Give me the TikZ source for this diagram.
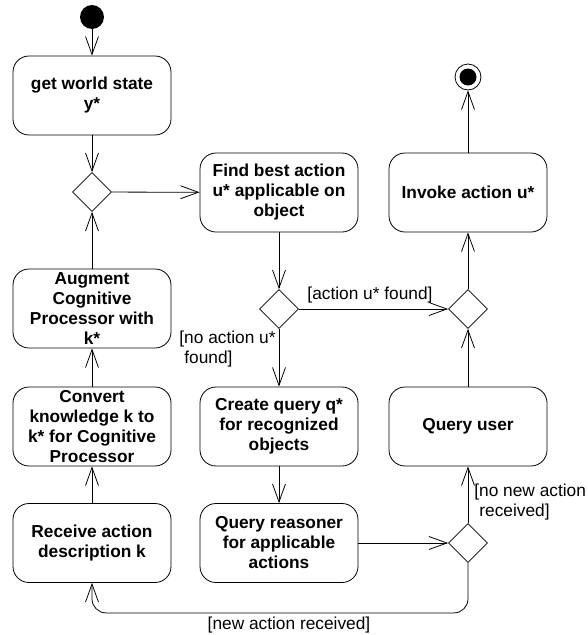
\documentclass[tikz,border=0pt]{standalone}
\usepackage{fontspec}
\setmainfont{Liberation Sans}
\usetikzlibrary{arrows.meta,shapes.geometric}
\newcommand{\diagfont}{\fontsize{17.3}{20}\selectfont}
\tikzset{
  action/.style={draw,rounded corners=16pt,minimum width=158pt,minimum height=79pt,
    align=center,inner sep=0pt,font=\diagfont\bfseries},
  decision/.style={draw,diamond,minimum width=39pt,minimum height=39pt,inner sep=0pt},
  initial/.style={circle,fill=black,minimum size=24pt,inner sep=0pt},
  final/.style={circle,draw,minimum size=26pt,inner sep=0pt,
    path picture={\fill (path picture bounding box.center) circle (8.5pt);}},
  flow/.style={-{Straight Barb[length=18pt,width=13pt]}},
  guard/.style={inner sep=0pt,align=left,font=\diagfont},
}
\begin{document}
\begin{tikzpicture}[x=1pt,y=-1pt,line width=0.8pt]
\useasboundingbox (0,0) rectangle (588,635);
% left column
\node[initial] (start) at (92,17) {};
\node[action] (getstate) at (92,95.5) {get world state\\y*};
\node[decision] (d1) at (92,192) {};
\node[action] (augment) at (92,308.5) {Augment\\Cognitive\\Processor with\\k*};
\node[action] (convert) at (92,426.5) {Convert\\knowledge k to\\k* for Cognitive\\Processor};
\node[action] (receive) at (92,543) {Receive action\\description k};
% middle column
\node[action] (findact) at (279,192.5) {Find best action\\u* applicable on\\object};
\node[decision] (d2) at (279,309) {};
\node[action] (createq) at (279,426.5) {Create query q*\\for recognized\\objects};
\node[action] (reasoner) at (279,543) {Query reasoner\\for applicable\\actions};
% right column
\node[final] (stop) at (468,77) {};
\node[action] (invoke) at (468,192.5) {Invoke action u*};
\node[decision] (d3) at (468,309) {};
\node[action] (queryuser) at (468,426.5) {Query user};
\node[decision] (d4) at (468,543) {};

\draw[flow] (start) -- (getstate);
\draw[flow] (getstate) -- (d1);
\draw[flow] (augment) -- (d1);
\draw[flow] (d1) -- (findact);
\draw[flow] (findact) -- (d2);
\draw[flow] (d2) -- (d3);
\draw[flow] (d2) -- (createq);
\draw[flow] (createq) -- (reasoner);
\draw[flow] (reasoner) -- (d4);
\draw[flow] (d4) -- (queryuser);
\draw[flow] (queryuser) -- (d3);
\draw[flow] (d3) -- (invoke);
\draw[flow] (invoke) -- (stop);
\draw[flow,rounded corners=14pt] (d4.south) -- ++(0,50) -| (receive.south);
\draw[flow] (receive) -- (convert);
\draw[flow] (convert) -- (augment);

% guards
\node[guard] (lfound) at (370,295) {[action u* found]};
\node[guard,anchor=north east] (lnone) at (276,331) {[no action u*\\\hspace*{5pt}found]};
\node[guard,anchor=north west] (lnonew) at (474,484) {[no new action\\\hspace*{5pt}received]};
\node[guard] (lnew) at (289,625) {[new action received]};
\end{tikzpicture}
\end{document}
